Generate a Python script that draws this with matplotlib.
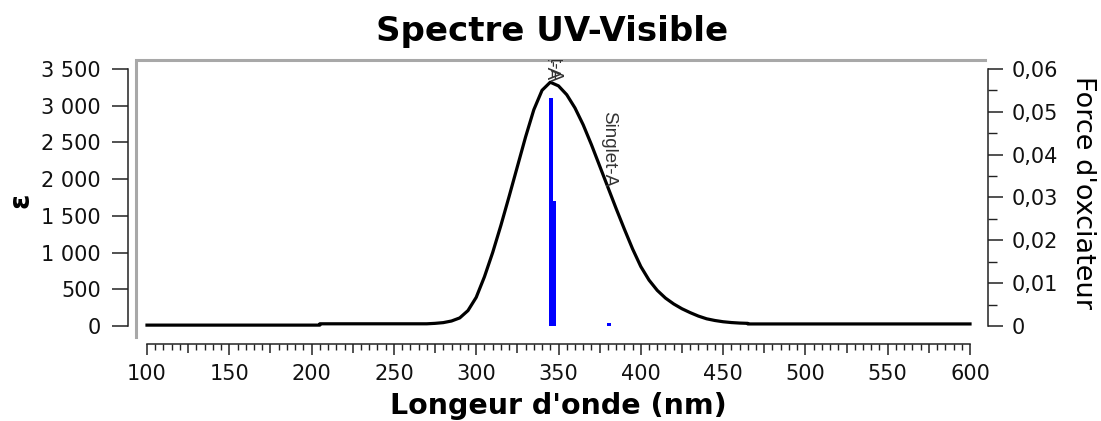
import numpy as np
import matplotlib
matplotlib.use("Agg")
import matplotlib.pyplot as plt
from matplotlib.ticker import FixedLocator, FuncFormatter, MultipleLocator
from matplotlib.transforms import offset_copy
from matplotlib.lines import Line2D

# ---- data ----
wavelength = [100, 205, 205, 270, 275, 280, 285, 290, 295, 300, 305, 310, 315, 320, 325,
              330, 335, 340, 345, 350, 355, 360, 365, 370, 375, 380, 385, 390, 395, 400,
              405, 410, 415, 420, 425, 430, 435, 440, 445, 450, 455, 460, 465, 465, 600]
epsilon = [12, 12, 30, 30, 36, 46, 68, 110, 210, 390, 670, 1000, 1370, 1765, 2170,
           2575, 2945, 3210, 3320, 3270, 3150, 2970, 2740, 2470, 2180, 1890, 1600, 1320, 1050, 810,
           625, 485, 380, 300, 235, 182, 135, 98, 75, 58, 47, 40, 36, 28, 28]

trans_wl = [345.4, 347.3, 380.4]
trans_f = [0.0533, 0.0292, 0.0006]
trans_labels = ["Singlet-A", "Singlet-A", "Singlet-A"]

title = "Spectre UV-Visible"
xlabel = "Longeur d'onde (nm)"
ylabel_left = "ε"
ylabel_right = "Force d'oxciateur"

# ---- figure ----
W, H = 1101, 421
fig = plt.figure(figsize=(W / 100, H / 100), dpi=100)
ax = fig.add_axes([136 / W, 1 - 337 / H, 849 / W, 277 / H])

eps_top = 3500
px_per_eps = 257 / 3500
ylim = (-11 / px_per_eps, eps_top + 9 / px_per_eps)
xlim = (100 - 11 / 1.646, 600 + 15 / 1.646)

ax.plot(wavelength, epsilon, color="black", lw=2.3, solid_joinstyle="round", zorder=3)
ax.set_xlim(*xlim)
ax.set_ylim(*ylim)

px = 72 / 100  # points per pixel
tick_color = "#111111"

# gray frame (top + left)
frame = Line2D([0, 0, 1], [0, 1, 1], transform=ax.transAxes, color="#a8a8a8",
               lw=2.2, clip_on=False, solid_joinstyle="miter")
ax.add_line(frame)

for s in ["top", "right"]:
    ax.spines[s].set_visible(False)
ax.spines["left"].set_position(("outward", 8 * px))
ax.spines["left"].set_bounds(0, 3500)
ax.spines["bottom"].set_position(("outward", 7 * px))
ax.spines["bottom"].set_bounds(100, 600)
for s in ["left", "bottom"]:
    ax.spines[s].set_linewidth(1.1)
    ax.spines[s].set_color("#222222")

ax.yaxis.set_major_locator(MultipleLocator(500))
ax.yaxis.set_major_formatter(FuncFormatter(lambda v, p: f"{int(round(v)):,}".replace(",", " ")))
ax.tick_params(axis="y", which="major", direction="out", length=16 * px, width=1.1,
               pad=11 * px, labelsize=15, colors="#222222", labelcolor=tick_color)

xmaj = list(range(100, 601, 25))
xmin = list(range(100, 601, 5))
ax.xaxis.set_major_locator(FixedLocator(xmaj))
ax.xaxis.set_minor_locator(FixedLocator(xmin))
ax.xaxis.set_major_formatter(FuncFormatter(lambda v, p: f"{int(round(v))}" if round(v) % 50 == 0 else ""))
ax.tick_params(axis="x", which="major", direction="out", length=11 * px, width=1.1,
               pad=9 * px, labelsize=15, colors="#222222", labelcolor=tick_color)
ax.tick_params(axis="x", which="minor", direction="out", length=6 * px, width=1.0,
               colors="#222222")
for t, v in zip(ax.xaxis.get_major_ticks(), xmaj):
    if v % 50:
        t.tick1line.set_markersize(9 * px)

# right axis for oscillator strength
ax2 = ax.twinx()
scale = 0.06 / 3500
ax2.set_ylim(ylim[0] * scale, ylim[1] * scale)
ax2.set_xlim(*xlim)
ax2.bar(trans_wl, trans_f, width=2.4, color="#0000ff", zorder=4)
for s in ["top", "left", "bottom"]:
    ax2.spines[s].set_visible(False)
ax2.spines["right"].set_position(("outward", 3 * px))
ax2.spines["right"].set_bounds(0, 0.06)
ax2.spines["right"].set_linewidth(1.1)
ax2.spines["right"].set_color("#222222")
fmaj = [0, 0.01, 0.02, 0.03, 0.04, 0.05, 0.06]
fmin = [0.005, 0.015, 0.025, 0.035, 0.045, 0.055]
ax2.yaxis.set_major_locator(FixedLocator(fmaj))
ax2.yaxis.set_minor_locator(FixedLocator(fmin))
ax2.yaxis.set_major_formatter(FuncFormatter(lambda v, p: "0" if abs(v) < 1e-9 else f"{v:.2f}".replace(".", ",")))
ax2.tick_params(axis="y", which="major", direction="out", length=15 * px, width=1.1,
                pad=9 * px, labelsize=15, colors="#222222", labelcolor=tick_color)
ax2.tick_params(axis="y", which="minor", direction="out", length=9 * px, width=1.0,
                colors="#222222")

# transition labels (clipped to the plot frame)
lab_tr = offset_copy(ax2.transData, fig=fig, x=0, y=2 * px, units="points")
for wl, lab in zip(trans_wl, trans_labels):
    yv = np.interp(wl, wavelength[3:], epsilon[3:]) * scale
    ax2.text(wl, yv, lab, transform=lab_tr, rotation=-90, ha="center", va="bottom",
             fontsize=13.5, family="Liberation Sans", color="#333333", clip_on=True, zorder=5)

# titles / labels
fig.text(552 / W, 1 - 31 / H, title, ha="center", va="center", fontsize=24.5, fontweight="bold")
fig.text(558 / W, 1 - 406 / H, xlabel, ha="center", va="center", fontsize=20.5, fontweight="bold")
fig.text(1083 / W, 1 - 193 / H, ylabel_right, ha="center", va="center", rotation=-90, fontsize=19.5)
fig.text(20 / W, 1 - 200 / H, ylabel_left, ha="center", va="center", rotation=90, fontsize=20,
         fontweight="bold")

fig.savefig("out.png", dpi=100)
